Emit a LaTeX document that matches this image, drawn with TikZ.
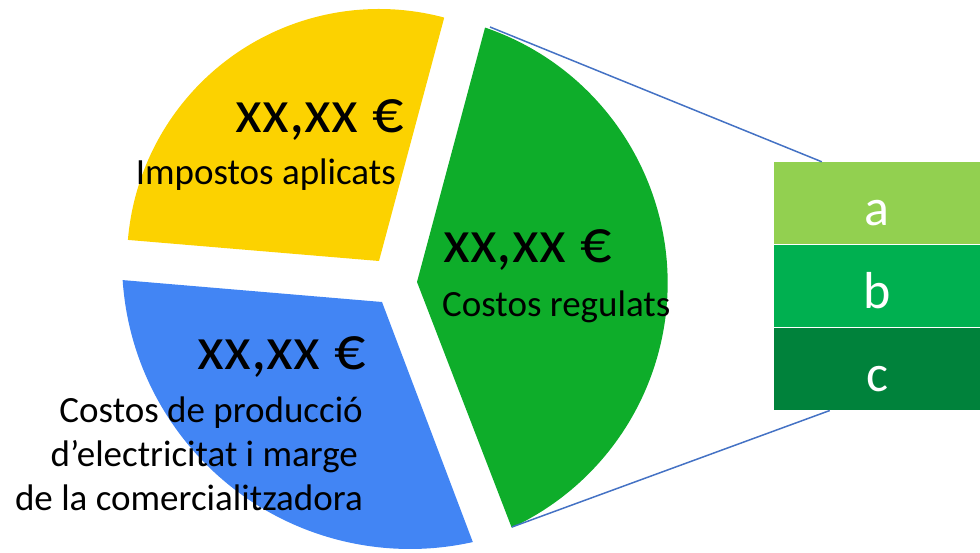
\documentclass[tikz,border=0pt]{standalone}
\usepackage{fontspec}
\setmainfont{Carlito}
\usetikzlibrary{positioning}
\definecolor{pieYellow}{HTML}{FCD200}
\definecolor{pieBlue}{HTML}{4285F4}
\definecolor{pieGreen}{HTML}{0EAD2A}
\definecolor{cA}{HTML}{92D050}
\definecolor{cB}{HTML}{00B050}
\definecolor{cC}{HTML}{00823B}
\definecolor{zoomLine}{HTML}{4472C4}

\begin{document}
\begin{tikzpicture}[x=1pt,y=1pt,node distance=0pt,
	val/.style={inner sep=0pt,font=\fontsize{62}{74}\selectfont},
	lbl/.style={inner sep=0pt,font=\fontsize{37}{44}\selectfont},
	legbox/.style={minimum width=206pt,minimum height=82.5pt,inner sep=0pt,
		text height=44pt,text depth=0pt,text=white,font=\fontsize{52}{62}\selectfont}]
	\useasboundingbox (0,0) rectangle (980,552);
	% slices
	\coordinate (yc) at (379,291);
	\coordinate (gv) at (417,270);
	\coordinate (gc) at (397.6,269);
	\coordinate (bv) at (382,250);
	\coordinate (bc) at (410,291);
	\fill[pieYellow] (yc) -- ([shift={(75:252)}]yc) arc[start angle=75,end angle=175.2,radius=252] -- cycle;
	\fill[pieGreen] (gv) -- ([shift={(71.1:270)}]gc) arc[start angle=71.1,end angle=-65,radius=270] -- cycle;
	\fill[pieBlue] ([shift={(183.8:288)}]bc) arc[start angle=183.8,end angle=282.6,radius=288] -- (bv) -- cycle;
	% legend
	\node[legbox,fill=cA] (a) at (877,348.75) {a};
	\node[legbox,fill=cB,below=of a] (b) {b};
	\node[legbox,fill=cC,below=of b] (c) {c};
	\coordinate (gtop) at (490,525);
	\coordinate (gbot) at (512,25);
	\draw[zoomLine,line width=1.5pt] (gtop) -- ([xshift=48pt]a.north west);
	\draw[zoomLine,line width=1.5pt] (gbot) -- ([xshift=56pt]c.south west);
	% texts
	\node[val,anchor=base east] (yval) at (404,419) {xx,xx €};
	\node[lbl,anchor=base east] (ytxt) at (396,367) {Impostos aplicats};
	\node[val,anchor=base west] (gval) at (443,289) {xx,xx €};
	\node[lbl,anchor=base west] (gtxt) at (442,235) {Costos regulats};
	\node[val,anchor=base east] (bval) at (366,182) {xx,xx €};
	\node[lbl,anchor=base east] (btxt1) at (363,130) {Costos de producció};
	\node[lbl,anchor=base east] (btxt2) at (358,86) {d’electricitat i marge};
	\node[lbl,anchor=base east] (btxt3) at (363,42) {de la comercialitzadora};
\end{tikzpicture}
\end{document}
